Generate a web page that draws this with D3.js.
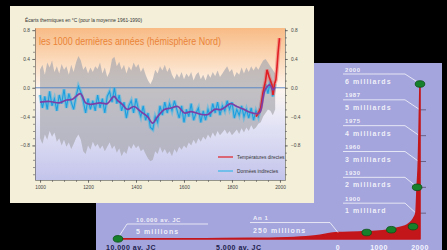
<!DOCTYPE html>
<html>
<head>
<meta charset="utf-8">
<script src="https://cdn.jsdelivr.net/npm/d3@7"></script>
<style>
  body { margin: 0; background: #000; }
  svg { display: block; font-family: "Liberation Sans", Arial, sans-serif; }
</style>
</head>
<body>
<div id="container"></div>
<script>
var width = 447;
var height = 250;

// ---- temperature reconstruction, deviation in °C (vs 1961-1990) ----
var decades = d3.range(1000, 1990, 10);
var proxy = [-0.10,-0.28,-0.12,-0.30,-0.05,-0.25,-0.15,-0.32,-0.10,-0.22,
  -0.02,-0.28,-0.08,-0.20,-0.30,-0.12,0.02,-0.06,-0.18,-0.35,
  -0.15,-0.30,-0.18,-0.32,-0.10,-0.28,-0.15,-0.35,-0.12,-0.05,
  -0.20,0.00,-0.22,-0.10,-0.32,-0.20,-0.42,-0.25,-0.18,-0.35,
  -0.15,-0.30,-0.40,-0.25,-0.45,-0.35,-0.55,-0.58,-0.40,-0.48,
  -0.25,-0.38,-0.20,-0.35,-0.22,-0.32,-0.18,-0.30,-0.42,-0.25,
  -0.48,-0.30,-0.40,-0.22,-0.45,-0.35,-0.28,-0.48,-0.32,-0.45,
  -0.30,-0.40,-0.22,-0.35,-0.20,-0.38,-0.25,-0.32,-0.18,-0.30,
  -0.20,-0.42,-0.30,-0.38,-0.25,-0.40,-0.30,-0.42,-0.28,-0.45,
  -0.32,-0.40,-0.25,-0.10,0.05,-0.08,0.10,-0.12,0.05];
var bandHi = [0.25,0.32,0.18,0.35,0.28,0.38,0.22,0.30,0.20,0.33,
  0.25,0.30,0.18,0.32,0.22,0.35,0.44,0.38,0.25,0.30,
  0.20,0.28,0.22,0.30,0.26,0.35,0.20,0.28,0.15,0.22,
  0.40,0.43,0.30,0.36,0.25,0.32,0.20,0.30,0.24,0.35,
  0.28,0.33,0.22,0.28,0.18,0.10,0.05,0.12,0.25,0.20,
  0.30,0.24,0.32,0.22,0.28,0.18,0.12,0.20,0.14,0.22,
  0.12,0.20,0.15,0.22,0.10,0.18,0.22,0.12,0.18,0.10,
  0.20,0.14,0.22,0.16,0.24,0.15,0.20,0.25,0.30,0.22,
  0.26,0.15,0.22,0.18,0.28,0.20,0.28,0.22,0.30,0.24,
  0.30,0.25,0.32,0.38,0.40,0.35,0.30,0.25,0.20];
var bandLo = [-0.70,-0.78,-0.65,-0.72,-0.60,-0.68,-0.62,-0.75,-0.70,-0.80,
  -0.72,-0.82,-0.76,-0.85,-0.78,-0.70,-0.65,-0.72,-0.88,-0.92,
  -0.80,-0.86,-0.75,-0.82,-0.78,-0.85,-0.80,-0.88,-0.82,-0.76,
  -0.85,-0.80,-0.90,-0.84,-0.95,-0.88,-0.92,-0.80,-0.85,-0.78,
  -0.84,-0.80,-0.88,-0.85,-0.92,-0.98,-1.02,-1.00,-0.88,-0.92,
  -0.82,-0.90,-0.85,-0.92,-0.88,-0.95,-0.85,-0.90,-0.82,-0.86,
  -0.80,-0.84,-0.76,-0.80,-0.72,-0.78,-0.70,-0.75,-0.68,-0.72,
  -0.65,-0.70,-0.62,-0.68,-0.60,-0.66,-0.62,-0.58,-0.64,-0.60,
  -0.66,-0.62,-0.58,-0.64,-0.56,-0.62,-0.55,-0.60,-0.52,-0.58,
  -0.55,-0.50,-0.48,-0.40,-0.35,-0.30,-0.32,-0.38,-0.30];
var smoothYears = [1000,1040,1080,1110,1135,1168,1190,1210,1250,1280,1308,1322,1343,1364,1392,
  1420,1448,1469,1490,1518,1546,1574,1602,1630,1672,1700,1728,1756,1795,1820,1850,1875,1904,1917,1938,1958,1971,1980];
var smoothVals = [-0.20,-0.19,-0.21,-0.17,-0.16,-0.08,-0.21,-0.23,-0.21,-0.22,-0.12,-0.17,-0.23,-0.30,-0.26,
  -0.33,-0.40,-0.49,-0.40,-0.30,-0.28,-0.26,-0.35,-0.33,-0.37,-0.37,-0.30,-0.30,-0.22,-0.26,-0.30,-0.34,-0.36,-0.34,-0.03,0.04,-0.03,0.01];
var instYears = [1900,1910,1920,1929,1940,1946,1955,1967,1971,1977,1983,1988,1992,1998];
var instVals = [-0.40,-0.35,-0.28,-0.07,0.10,0.25,0.15,0.04,-0.10,0.05,0.11,0.30,0.48,0.69];
var tempLabels = [-0.8, -0.4, 0, 0.4, 0.8];
var yearLabels = [1000, 1200, 1400, 1600, 1800, 2000];

// ---- world population (millions) ----
var popYears = [-10000,-8000,-6000,-4000,-2000,-1000,0,500,1000,1300,1500,1700,1800,1850,1900,1930,1960,1975,1987,2000];
var popVals = [5,8,12,25,60,120,250,270,310,370,440,560,700,820,1000,2000,3000,4000,5000,6000];
var annYears = [-10000, 0, 1900, 1930, 1960, 1975, 1987, 2000];
var annPop = [5, 250, 1000, 2000, 3000, 4000, 5000, 6000];
var annYearText = ["10.000 av. JC", "An 1", "1900", "1930", "1960", "1975", "1987", "2000"];
var annPopText = ["5 millions", "250 millions", "1 milliard", "2 milliards", "3 milliards", "4 milliards", "5 milliards", "6 milliards"];
var dotYears = [-10000, 700, 1300, 1830, 1930, 2000];
var dotPop = [5, 250, 360, 480, 2000, 6000];
var popTickYears = [-10000, -5000, 0, 1000, 2000];
var popTickText = ["10.000 av. JC", "5.000 av. JC", "0", "1000", "2000"];

var svg = d3.select("div#container").append("svg")
  .attr("width", width).attr("height", height)
  .style("background-color", "#000");
var defs = svg.append("defs");

// ================= population panel (behind) =================
var pop = svg.append("g");
pop.append("rect").attr("x", 96).attr("y", 63).attr("width", 346).attr("height", 190)
  .attr("fill", "#a4a5dc");

var xP = d3.scaleLinear().domain([-10000, 0, 2000]).range([118, 338, 420]);
var yP = d3.scaleLinear().domain([0, 6000]).range([239, 84]);

// billion ticks on the 2000 axis
pop.append("g").selectAll("line").data([1000, 2000, 3000, 4000, 5000]).enter().append("line")
  .attr("x1", xP(2000)).attr("x2", xP(2000) + 6)
  .attr("y1", d => yP(d)).attr("y2", d => yP(d))
  .attr("stroke", "#5b4f70").attr("stroke-width", 0.8);

var popData = popYears.map((y, i) => ({ year: y, v: popVals[i] }));
pop.append("path").datum(popData)
  .attr("d", d3.area().x(d => xP(d.year)).y0(yP(0)).y1(d => yP(d.v)).curve(d3.curveMonotoneX))
  .attr("fill", "#c3161a").attr("stroke", "#c3161a").attr("stroke-width", 1.6)
  .attr("stroke-linejoin", "round");

// annotations with leader lines
var ann = pop.append("g").attr("fill", "#fff").attr("fill-opacity", 0.85);
annYears.forEach(function (yr, i) {
  var px = xP(yr), py = yP(annPop[i]);
  var ly = Math.min(py - 10, 224);
  var tx, path;
  if (yr >= 1900) {
    tx = 345;
    path = [[343, ly], [405, ly], [px - 1, py - 1]];
  } else if (yr === 0) {
    tx = 253;
    path = [[250, ly], [330, ly], [px, py]];
  } else {
    tx = 136;
    path = [[208, ly], [127, ly], [px, py - 1]];
  }
  pop.append("path").attr("d", d3.line()(path))
    .attr("fill", "none").attr("stroke", "#fff").attr("stroke-opacity", 0.8).attr("stroke-width", 0.9);
  ann.append("text").attr("x", tx).attr("y", ly - 2.5)
    .attr("font-size", 6).attr("font-weight", "bold").attr("letter-spacing", 0.6)
    .text(annYearText[i]);
  ann.append("text").attr("x", tx).attr("y", ly + 10)
    .attr("font-size", 7).attr("font-weight", "bold").attr("letter-spacing", 1.1)
    .text(annPopText[i]);
});

pop.append("g").selectAll("ellipse").data(dotYears).enter().append("ellipse")
  .attr("cx", d => xP(d)).attr("cy", (d, i) => yP(dotPop[i]))
  .attr("rx", 4.8).attr("ry", 3.3)
  .attr("fill", "#16802a").attr("stroke", "#0b4f17").attr("stroke-width", 0.8);

pop.append("g").selectAll("text").data(popTickYears).enter().append("text")
  .attr("x", d => d < 0 ? xP(d) - 12 : xP(d))
  .attr("y", 249.5)
  .attr("text-anchor", d => d < 0 ? "start" : "middle")
  .attr("font-size", 7).attr("font-weight", "bold").attr("letter-spacing", 0.5)
  .attr("fill", d => d < 0 ? "#1d1d4c" : "#f4f4ff")
  .text((d, i) => popTickText[i]);

// ================= temperature card (front) =================
var card = svg.append("g");
card.append("rect").attr("x", 10).attr("y", 6).attr("width", 304).attr("height", 197)
  .attr("fill", "#f3efd9");

var xT = d3.scaleLinear().domain([979, 2021]).range([35, 285]);
var yT = d3.scaleLinear().domain([-1.28, 0.83]).range([180, 28]);

var grad = defs.append("linearGradient").attr("id", "bg")
  .attr("gradientUnits", "userSpaceOnUse").attr("x1", 0).attr("x2", 0).attr("y1", 28).attr("y2", 180);
[[0, "#f8bb85"], [0.22, "#fbdbbd"], [0.4, "#fdf5ee"], [0.6, "#e6e6f6"], [1, "#c3c4eb"]].forEach(function (s) {
  grad.append("stop").attr("offset", s[0]).attr("stop-color", s[1]);
});
defs.append("clipPath").attr("id", "plotclip").append("rect")
  .attr("x", 35).attr("y", 28).attr("width", 250).attr("height", 152);

card.append("rect").attr("x", 35).attr("y", 28).attr("width", 250).attr("height", 152)
  .attr("fill", "url(#bg)");

var plot = card.append("g").attr("clip-path", "url(#plotclip)");

var band = decades.map((y, i) => ({ year: y, lo: bandLo[i], hi: bandHi[i] }));
plot.append("path").datum(band)
  .attr("d", d3.area().x(d => xT(d.year)).y0(d => yT(d.lo)).y1(d => yT(d.hi)))
  .attr("fill", "#a7a7ae").attr("fill-opacity", 0.68);

plot.append("line").attr("x1", 35).attr("x2", 285).attr("y1", yT(0)).attr("y2", yT(0))
  .attr("stroke", "#4f80c4").attr("stroke-width", 0.9);

var proxyLine = d3.line().x((d, i) => xT(decades[i])).y(d => yT(d));
plot.append("path").datum(proxy).attr("d", proxyLine)
  .attr("fill", "none").attr("stroke", "#39b8ea").attr("stroke-opacity", 0.5).attr("stroke-width", 3.4);
plot.append("path").datum(proxy).attr("d", proxyLine)
  .attr("fill", "none").attr("stroke", "#1c9fe0").attr("stroke-width", 1.1);

var instLine = d3.line().x((d, i) => xT(instYears[i])).y(d => yT(d));
plot.append("path").datum(instVals).attr("d", instLine)
  .attr("fill", "none").attr("stroke", "#f06060").attr("stroke-opacity", 0.45).attr("stroke-width", 4);
plot.append("path").datum(instVals).attr("d", instLine)
  .attr("fill", "none").attr("stroke", "#e01e24").attr("stroke-width", 1.6);

plot.append("path").datum(smoothVals)
  .attr("d", d3.line().x((d, i) => xT(smoothYears[i])).y(d => yT(d)).curve(d3.curveCatmullRom))
  .attr("fill", "none").attr("stroke", "#7d3fa6").attr("stroke-width", 1.7);

// title
card.append("text").attr("x", 39).attr("y", 45)
  .attr("font-size", 11).attr("fill", "#ea8438")
  .attr("textLength", 182).attr("lengthAdjust", "spacingAndGlyphs")
  .text("les 1000 dernières années (hémisphère Nord)");
card.append("text").attr("x", 25).attr("y", 21.5)
  .attr("font-size", 5).attr("fill", "#333")
  .attr("textLength", 117).attr("lengthAdjust", "spacingAndGlyphs")
  .text("Écarts thermiques en °C (pour la moyenne 1961-1990)");

// axes
function styleAxis(g) {
  g.selectAll("path, line").attr("stroke", "#555").attr("stroke-width", 0.6);
  g.selectAll("text").attr("font-size", 4.8).attr("fill", "#444").attr("font-family", "Liberation Sans, Arial, sans-serif");
}
var minorT = d3.range(-12, 9).map(d => d / 10);
var minorY = d3.range(1000, 2001, 50);
var fmt = d3.format(".1f");

card.append("g").attr("transform", "translate(35,0)")
  .call(d3.axisLeft(yT).tickValues(minorT).tickSize(2).tickSizeOuter(0).tickFormat(""))
  .call(styleAxis);
card.append("g").attr("transform", "translate(35,0)")
  .call(d3.axisLeft(yT).tickValues(tempLabels).tickSize(3).tickPadding(2).tickFormat(fmt))
  .call(g => g.select(".domain").remove())
  .call(styleAxis);
card.append("g").attr("transform", "translate(285,0)")
  .call(d3.axisRight(yT).tickValues(minorT).tickSize(2).tickSizeOuter(0).tickFormat(""))
  .call(styleAxis);
card.append("g").attr("transform", "translate(285,0)")
  .call(d3.axisRight(yT).tickValues(tempLabels).tickSize(3).tickPadding(3).tickFormat(fmt))
  .call(g => g.select(".domain").remove())
  .call(styleAxis);
card.append("g").attr("transform", "translate(0,180)")
  .call(d3.axisBottom(xT).tickValues(minorY).tickSize(2).tickSizeOuter(0).tickFormat(""))
  .call(styleAxis);
card.append("g").attr("transform", "translate(0,180)")
  .call(d3.axisBottom(xT).tickValues(yearLabels).tickSize(3).tickPadding(3).tickFormat(d3.format("d")))
  .call(g => g.select(".domain").remove())
  .call(styleAxis);

// legend
var legend = card.append("g");
[["#e01e24", "Températures directes", 157], ["#39b8ea", "Données indirectes", 171]].forEach(function (l) {
  legend.append("line").attr("x1", 218).attr("x2", 233).attr("y1", l[2]).attr("y2", l[2])
    .attr("stroke", l[0]).attr("stroke-width", 1.2);
  legend.append("text").attr("x", 237).attr("y", l[2] + 1.7)
    .attr("font-size", 4.8).attr("fill", "#333").text(l[1]);
});
</script>
</body>
</html>
